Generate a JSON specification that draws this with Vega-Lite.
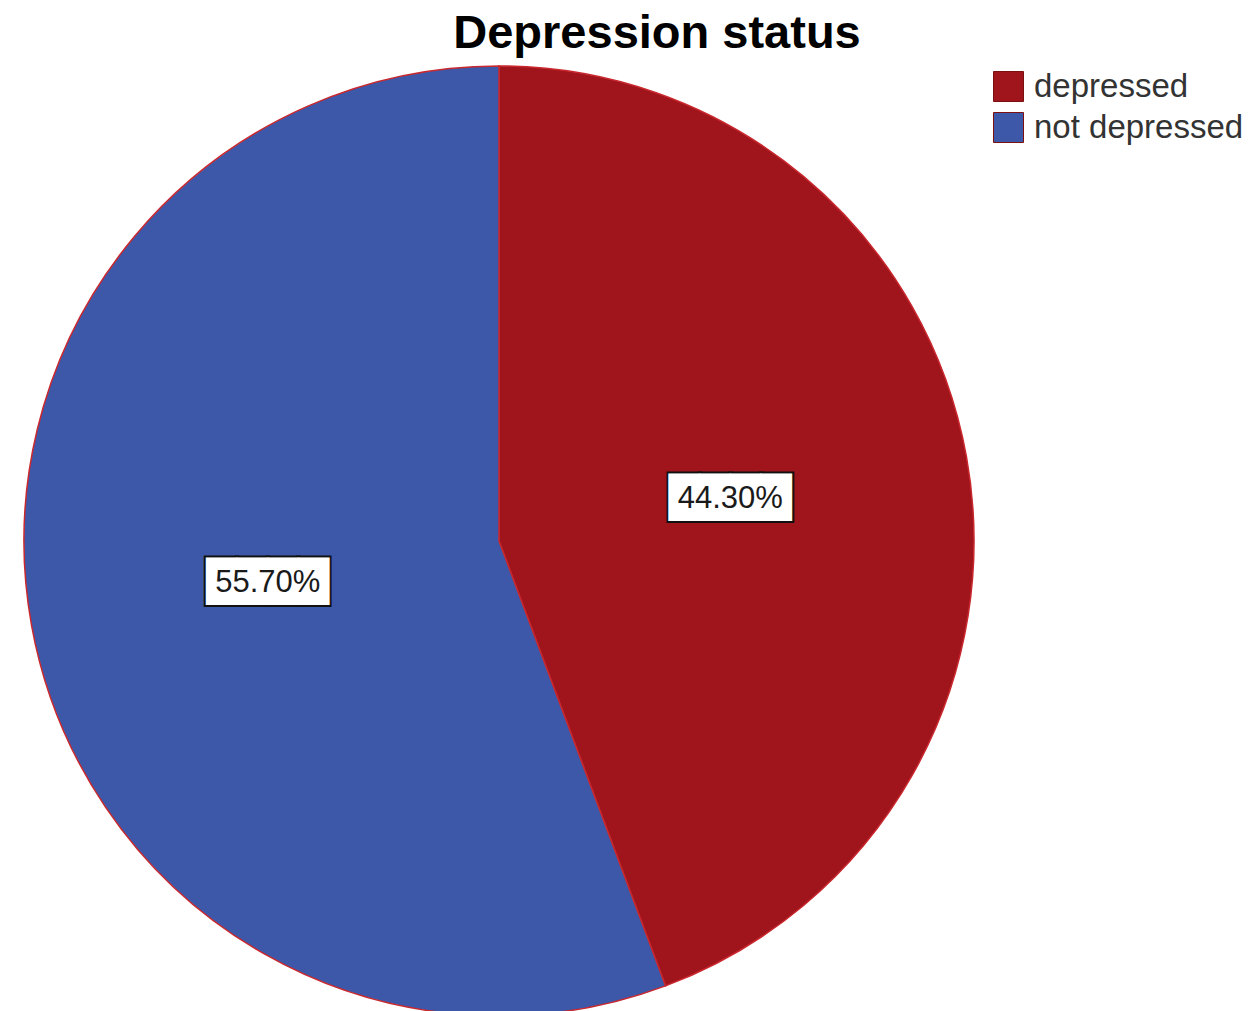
{
  "$schema": "https://vega.github.io/schema/vega-lite/v6.json",
  "width": 998,
  "height": 942,
  "autosize": {"type": "none"},
  "padding": {"left": 0, "top": 70, "right": 257, "bottom": 0},
  "background": "white",
  "config": {"view": {"stroke": null}},
  "title": {
    "text": "Depression status",
    "fontSize": 47,
    "font": "Liberation Sans",
    "fontWeight": "bold",
    "color": "#000000",
    "anchor": "middle",
    "dx": 158,
    "offset": 5
  },
  "data": {
    "values": [
      {"status": "depressed", "percent": 44.3, "label": "44.30%"},
      {"status": "not depressed", "percent": 55.7, "label": "55.70%"}
    ]
  },
  "encoding": {
    "theta": {"field": "percent", "type": "quantitative", "stack": true},
    "detail": {"field": "status", "type": "nominal"}
  },
  "layer": [
    {
      "mark": {"type": "arc", "radius": 475, "stroke": "#c8282e", "strokeWidth": 1.5},
      "encoding": {
        "color": {
          "field": "status",
          "type": "nominal",
          "scale": {"domain": ["depressed", "not depressed"], "range": ["#a0141b", "#3d58a8"]},
          "legend": {
            "title": null,
            "orient": "none",
            "legendX": 992,
            "legendY": 0,
            "symbolType": "square",
            "symbolSize": 900,
            "symbolStrokeColor": "#7a1010",
            "symbolStrokeWidth": 1,
            "symbolOpacity": 1,
            "labelFont": "Liberation Sans",
            "labelFontSize": 33,
            "labelColor": "#333333",
            "labelOffset": 9,
            "labelLimit": 400,
            "rowPadding": 6,
            "padding": 0
          }
        }
      }
    },
    {
      "mark": {"type": "text", "radius": 235, "text": "████", "font": "DejaVu Sans", "fontSize": 40, "fill": "#111111", "stroke": "#111111", "strokeWidth": 4, "align": "center", "baseline": "middle"}
    },
    {
      "mark": {"type": "text", "radius": 235, "text": "████", "font": "DejaVu Sans", "fontSize": 40, "fill": "#ffffff", "align": "center", "baseline": "middle"}
    },
    {
      "mark": {"type": "text", "radius": 235, "font": "Liberation Sans", "fontSize": 31, "fill": "#1a1a1a", "align": "center", "baseline": "middle"},
      "encoding": {"text": {"field": "label", "type": "nominal"}}
    }
  ]
}
